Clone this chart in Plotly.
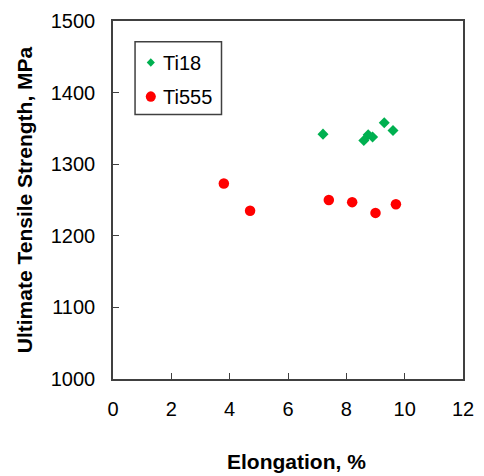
import plotly.graph_objects as go

# Elongation (%) and ultimate tensile strength (MPa) per alloy
ti18_elong = [7.2, 8.6, 8.75, 8.9, 9.3, 9.6]
ti18_uts = [1342, 1333, 1341, 1338, 1358, 1347]

ti555_elong = [3.8, 4.7, 7.4, 8.2, 9.0, 9.7]
ti555_uts = [1273, 1235, 1250, 1247, 1232, 1244]

x_ticks = [0, 2, 4, 6, 8, 10, 12]
y_ticks = [1000, 1100, 1200, 1300, 1400, 1500]

FONT = "Liberation Sans, Arial, sans-serif"
GREEN = "#00B050"
RED = "#FF0000"
LINE = "#404040"

fig = go.Figure()
fig.add_trace(go.Scatter(
    x=ti18_elong, y=ti18_uts, mode="markers", name="Ti18",
    marker=dict(symbol="diamond", size=8.5, color=GREEN),
))
fig.add_trace(go.Scatter(
    x=ti555_elong, y=ti555_uts, mode="markers", name="Ti555",
    marker=dict(symbol="circle", size=10.5, color=RED),
))

axis_common = dict(
    showgrid=False, zeroline=False, showline=True, linecolor=LINE,
    linewidth=1.5, mirror=True, ticks="inside", ticklen=6, tickcolor=LINE,
    tickwidth=1.3, tickfont=dict(family=FONT, size=20, color="black"),
)

fig.update_xaxes(
    range=[0, 12], tickvals=x_ticks, ticktext=[str(v) for v in x_ticks],
    ticklabelstandoff=11,
    **axis_common,
)
fig.update_yaxes(
    range=[1000, 1500], tickvals=y_ticks, ticktext=[str(v) for v in y_ticks],
    title=dict(text="<b>Ultimate Tensile Strength, MPa</b>", font=dict(family=FONT, size=21, color="black"), standoff=12),
    ticklabelstandoff=12,
    **axis_common,
)

# Boxed key in the upper-left corner of the plot area
key_rows = [("Ti18", GREEN, "diamond", 0.884), ("Ti555", RED, "circle", 0.789)]
shapes = [dict(type="rect", xref="paper", yref="paper",
               x0=0.063, x1=0.310, y0=0.739, y1=0.942,
               line=dict(color=LINE, width=1.5), fillcolor="white", layer="above")]
annotations = []
sx, hx, hy = 0.108, 4.2 / 361, 4.2 / 360
for label, color, sym, yc in key_rows:
    if sym == "diamond":
        path = (f"M {sx - hx} {yc} L {sx} {yc + hy} L {sx + hx} {yc} "
                f"L {sx} {yc - hy} Z")
        shapes.append(dict(type="path", xref="paper", yref="paper", path=path,
                           fillcolor=color, line=dict(width=0), layer="above"))
    else:
        r_x, r_y = 5.2 / 361, 5.2 / 360
        shapes.append(dict(type="circle", xref="paper", yref="paper",
                           x0=sx - r_x, x1=sx + r_x, y0=yc - r_y, y1=yc + r_y,
                           fillcolor=color, line=dict(width=0), layer="above"))
    annotations.append(dict(text=label, xref="paper", yref="paper",
                            x=0.1385, y=yc, xanchor="left", yanchor="middle",
                            showarrow=False,
                            font=dict(family=FONT, size=20, color="black")))

# x-axis title, set slightly right of centre
annotations.append(dict(text="<b>Elongation, %</b>", xref="paper", yref="paper",
                        x=0.5235, y=-0.2306, xanchor="center", yanchor="middle",
                        showarrow=False,
                        font=dict(family=FONT, size=21, color="black")))

fig.update_layout(
    width=484, height=476,
    margin=dict(l=113, r=10, t=19, b=97),
    plot_bgcolor="white", paper_bgcolor="white",
    showlegend=False,
    shapes=shapes, annotations=annotations,
)

fig.write_html("out.html")
